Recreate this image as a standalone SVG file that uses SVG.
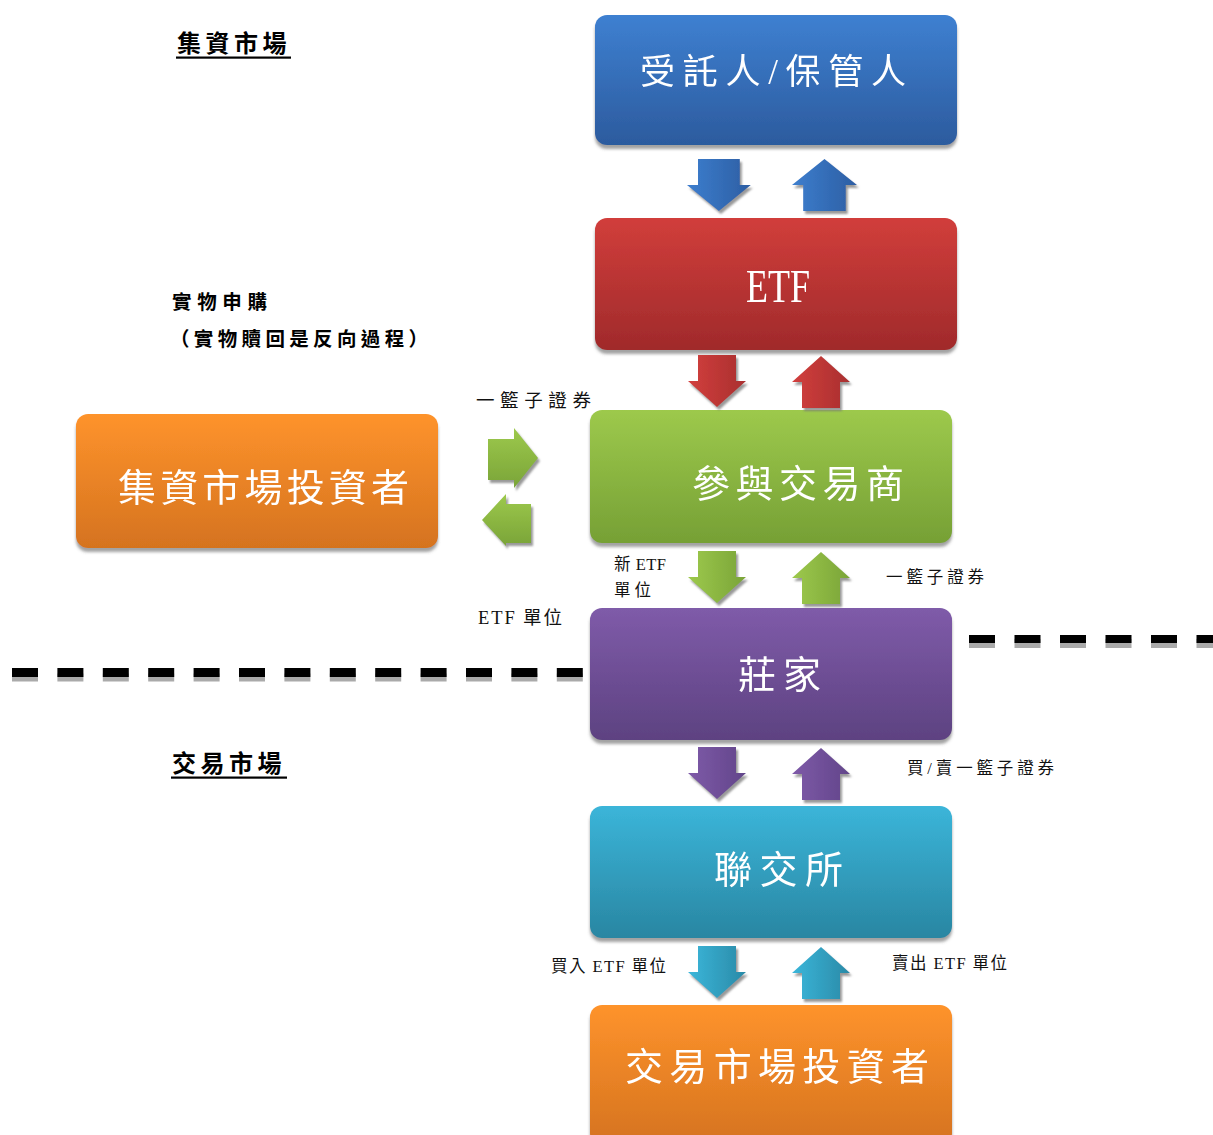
<svg xmlns="http://www.w3.org/2000/svg" width="1213" height="1135" viewBox="0 0 1213 1135">
<style>
.nt{font-family:"Liberation Serif","Noto Sans CJK TC",serif;fill:#fff;}
.lb{font-family:"Liberation Serif","Noto Sans CJK TC",serif;fill:#111;}
.hd{font-family:"Noto Sans CJK TC",sans-serif;font-weight:bold;fill:#000;}
</style>
<defs>
<filter id="ns" x="-5%" y="-10%" width="110%" height="125%"><feDropShadow dx="0" dy="4" stdDeviation="1.5" flood-color="#666" flood-opacity="0.6"/></filter>
<filter id="as" x="-20%" y="-20%" width="140%" height="140%"><feDropShadow dx="2" dy="3" stdDeviation="0.8" flood-color="#777" flood-opacity="0.75"/></filter>
<linearGradient id="gB" x1="0" y1="0" x2="0" y2="1"><stop offset="0" stop-color="#3e80d1"/><stop offset="1" stop-color="#2c5b9e"/></linearGradient>
<linearGradient id="gR" x1="0" y1="0" x2="0" y2="1"><stop offset="0" stop-color="#d13e3b"/><stop offset="1" stop-color="#a02a2b"/></linearGradient>
<linearGradient id="gG" x1="0" y1="0" x2="0" y2="1"><stop offset="0" stop-color="#9dc94c"/><stop offset="1" stop-color="#76a035"/></linearGradient>
<linearGradient id="gO" x1="0" y1="0" x2="0" y2="1"><stop offset="0" stop-color="#fe932c"/><stop offset="1" stop-color="#d5731f"/></linearGradient>
<linearGradient id="gP" x1="0" y1="0" x2="0" y2="1"><stop offset="0" stop-color="#7f5ba9"/><stop offset="1" stop-color="#5d4281"/></linearGradient>
<linearGradient id="gC" x1="0" y1="0" x2="0" y2="1"><stop offset="0" stop-color="#3bb5d9"/><stop offset="1" stop-color="#2986a2"/></linearGradient>
<linearGradient id="aB" x1="0" y1="0" x2="1" y2="0"><stop offset="0" stop-color="#3d7ece"/><stop offset="1" stop-color="#2c5ea3"/></linearGradient>
<linearGradient id="aR" x1="0" y1="0" x2="1" y2="0"><stop offset="0" stop-color="#d23f3d"/><stop offset="1" stop-color="#a92f2f"/></linearGradient>
<linearGradient id="aG" x1="0" y1="0" x2="1" y2="0"><stop offset="0" stop-color="#9dc94c"/><stop offset="1" stop-color="#7aa438"/></linearGradient>
<linearGradient id="aGv" x1="0" y1="0" x2="0" y2="1"><stop offset="0" stop-color="#9dc94c"/><stop offset="1" stop-color="#7aa438"/></linearGradient>
<linearGradient id="aP" x1="0" y1="0" x2="1" y2="0"><stop offset="0" stop-color="#7e5aa8"/><stop offset="1" stop-color="#62458a"/></linearGradient>
<linearGradient id="aC" x1="0" y1="0" x2="1" y2="0"><stop offset="0" stop-color="#3bb6da"/><stop offset="1" stop-color="#2a8aa7"/></linearGradient>
<path id="dn" d="M10,0 H48 V26 H58 L29,52 L0,26 H10 Z"/>
<path id="up" d="M10,52 V26 H0 L29,0 L58,26 H48 V52 Z"/>
</defs>

<rect width="1213" height="1135" fill="#fff"/>

<g id="dividers">
<line x1="12" y1="677.5" x2="590" y2="677.5" stroke="#aaa" stroke-width="8" stroke-dasharray="26 19.4"/>
<line x1="12" y1="672.5" x2="590" y2="672.5" stroke="#000" stroke-width="9" stroke-dasharray="26 19.4"/>
<line x1="969" y1="643.5" x2="1213" y2="643.5" stroke="#aaa" stroke-width="9" stroke-dasharray="26 19.5"/>
<line x1="969" y1="639" x2="1213" y2="639" stroke="#000" stroke-width="8" stroke-dasharray="26 19.5"/>
</g>

<g id="labels">
<text class="hd" x="177" y="52" font-size="24" letter-spacing="4.5">集資市場</text>
<rect x="176" y="56.5" width="115" height="2.2" fill="#000"/>
<text class="hd" x="172" y="309" font-size="19.5" textLength="95" lengthAdjust="spacing">實物申購</text>
<text class="hd" x="170" y="346" font-size="19.5" textLength="258" lengthAdjust="spacing">（實物贖回是反向過程）</text>
<text class="hd" x="172" y="772" font-size="24" letter-spacing="4.5">交易市場</text>
<rect x="171" y="776.5" width="116" height="2.2" fill="#000"/>
<text class="lb" x="476" y="407" font-size="18.5" textLength="115" lengthAdjust="spacing">一籃子證券</text>
<text class="lb" x="614" y="570" font-size="16.5" textLength="52" lengthAdjust="spacing">新 ETF</text>
<text class="lb" x="614" y="596" font-size="16.5" textLength="37" lengthAdjust="spacing">單位</text>
<text class="lb" x="886" y="583" font-size="16.5" textLength="98" lengthAdjust="spacing">一籃子證券</text>
<text class="lb" x="478" y="624" font-size="18.5" textLength="84" lengthAdjust="spacing">ETF 單位</text>
<text class="lb" x="907" y="774" font-size="16.5" textLength="147" lengthAdjust="spacing">買/賣一籃子證券</text>
<text class="lb" x="551" y="972" font-size="16.5" textLength="115" lengthAdjust="spacing">買入 ETF 單位</text>
<text class="lb" x="892" y="969" font-size="16.5" textLength="115" lengthAdjust="spacing">賣出 ETF 單位</text>
</g>

<g id="node-trustee" filter="url(#ns)">
<rect x="595" y="15" width="362" height="130" rx="12" fill="url(#gB)"/>
<text class="nt" x="640" y="84" font-size="35" textLength="266" lengthAdjust="spacing">受託人/保管人</text>
</g>
<g id="node-etf" filter="url(#ns)">
<rect x="595" y="218" width="362" height="132" rx="12" fill="url(#gR)"/>
<text class="nt" x="746" y="302" font-size="46" textLength="64" lengthAdjust="spacingAndGlyphs">ETF</text>
</g>
<g id="node-dealer" filter="url(#ns)">
<rect x="590" y="410" width="362" height="133" rx="12" fill="url(#gG)"/>
<text class="nt" x="692" y="497" font-size="38" textLength="212" lengthAdjust="spacing">參與交易商</text>
</g>
<g id="node-primary-investor" filter="url(#ns)">
<rect x="76" y="414" width="362" height="134" rx="12" fill="url(#gO)"/>
<text class="nt" x="118" y="501" font-size="38" textLength="291" lengthAdjust="spacing">集資市場投資者</text>
</g>
<g id="node-market-maker" filter="url(#ns)">
<rect x="590" y="608" width="362" height="132" rx="12" fill="url(#gP)"/>
<text class="nt" x="738" y="688" font-size="38" textLength="83" lengthAdjust="spacing">莊家</text>
</g>
<g id="node-hkex" filter="url(#ns)">
<rect x="590" y="806" width="362" height="132" rx="12" fill="url(#gC)"/>
<text class="nt" x="714" y="883" font-size="38" textLength="129" lengthAdjust="spacing">聯交所</text>
</g>
<g id="node-secondary-investor" filter="url(#ns)">
<rect x="590" y="1005" width="362" height="140" rx="12" fill="url(#gO)"/>
<text class="nt" x="625" y="1080" font-size="38" textLength="304" lengthAdjust="spacing">交易市場投資者</text>
</g>

<g id="connectors" filter="url(#as)">
<use href="#dn" transform="translate(687,159) scale(1.1,1)" fill="url(#aB)"/>
<use href="#up" transform="translate(792,159) scale(1.12,1)" fill="url(#aB)"/>
<use href="#dn" transform="translate(688,355)" fill="url(#aR)"/>
<use href="#up" transform="translate(792,356)" fill="url(#aR)"/>
<use href="#dn" transform="translate(688,551)" fill="url(#aG)"/>
<use href="#up" transform="translate(792,552)" fill="url(#aG)"/>
<use href="#dn" transform="translate(688,747)" fill="url(#aP)"/>
<use href="#up" transform="translate(792,748)" fill="url(#aP)"/>
<use href="#dn" transform="translate(688,946)" fill="url(#aC)"/>
<use href="#up" transform="translate(792,947)" fill="url(#aC)"/>
<path d="M488,439 H514 V428 L538,458 L514,488 V480 H488 Z" fill="url(#aGv)"/>
<path d="M531,504 H506 V494 L482,520 L506,546 V543 H531 Z" fill="url(#aGv)"/>
</g>
</svg>
